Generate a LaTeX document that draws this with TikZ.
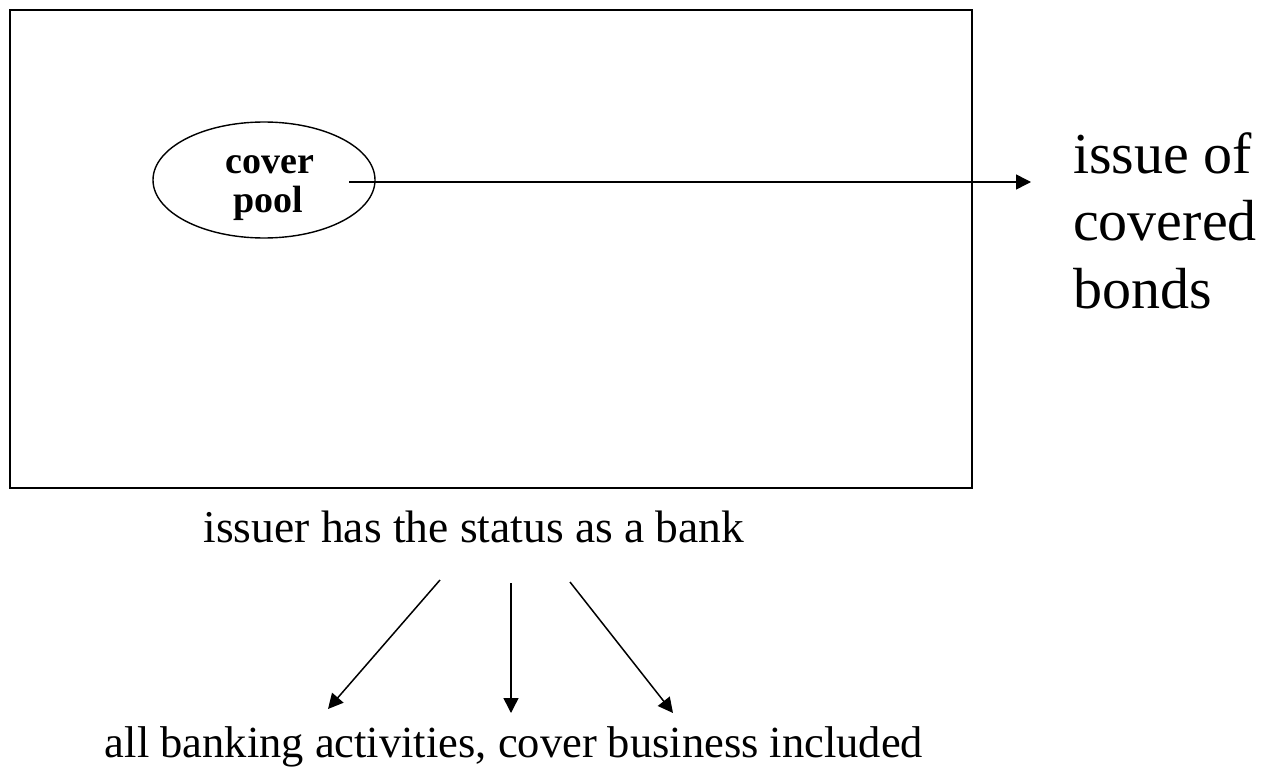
\documentclass[tikz,border=0pt]{standalone}
\usepackage{fontspec}
\setmainfont{Liberation Serif}
\usetikzlibrary{shapes.geometric,arrows.meta}
\begin{document}
\begin{tikzpicture}[x=1pt,y=-1pt,
  arr/.style={line width=1.5pt,-{Triangle[length=15pt,width=15pt]}},
  bigtxt/.style={inner sep=0pt,font=\fontsize{58}{67}\selectfont},
  midtxt/.style={inner sep=0pt,font=\fontsize{45.5}{50}\selectfont},
  lowtxt/.style={inner sep=0pt,font=\fontsize{44.5}{50}\selectfont},
  pooltxt/.style={inner sep=0pt,font=\bfseries\fontsize{38}{39}\selectfont},
  poolshape/.style={ellipse,draw,line width=1.4pt,minimum width=222pt,minimum height=116pt,inner sep=0pt}]
\useasboundingbox (0,0) rectangle (1264,768);
\fill[white] (0,0) rectangle (1264,768);
\draw[line width=2pt] (10,10) rectangle (972,488);
\node[poolshape] (pool) at (264,180) {};
\node[pooltxt,anchor=base] (p1) at (270,173) {cover};
\node[pooltxt,anchor=base] (p2) at (268,212) {pool};
\node[bigtxt,anchor=base west] (i1) at (1073,173) {issue of};
\node[bigtxt,anchor=base west] (i2) at (1073,240) {covered};
\node[bigtxt,anchor=base west] (i3) at (1073,308) {bonds};
\coordinate (s0) at (349,182);
\coordinate (t0) at (1031,182);
\draw[arr] (s0) -- (t0);
\node[midtxt,anchor=base] (issuer) at (474,542) {issuer has the status as a bank};
\node[lowtxt,anchor=base] (all) at (514,757) {all banking activities, cover business included};
\coordinate (a1) at (440,580);
\coordinate (a2) at (511,583);
\coordinate (a3) at (570,582);
\coordinate (b1) at (328,709);
\coordinate (b2) at (511,713);
\coordinate (b3) at (673,713);
\draw[arr] (a1) -- (b1);
\draw[arr] (a2) -- (b2);
\draw[arr] (a3) -- (b3);
\end{tikzpicture}
\end{document}
